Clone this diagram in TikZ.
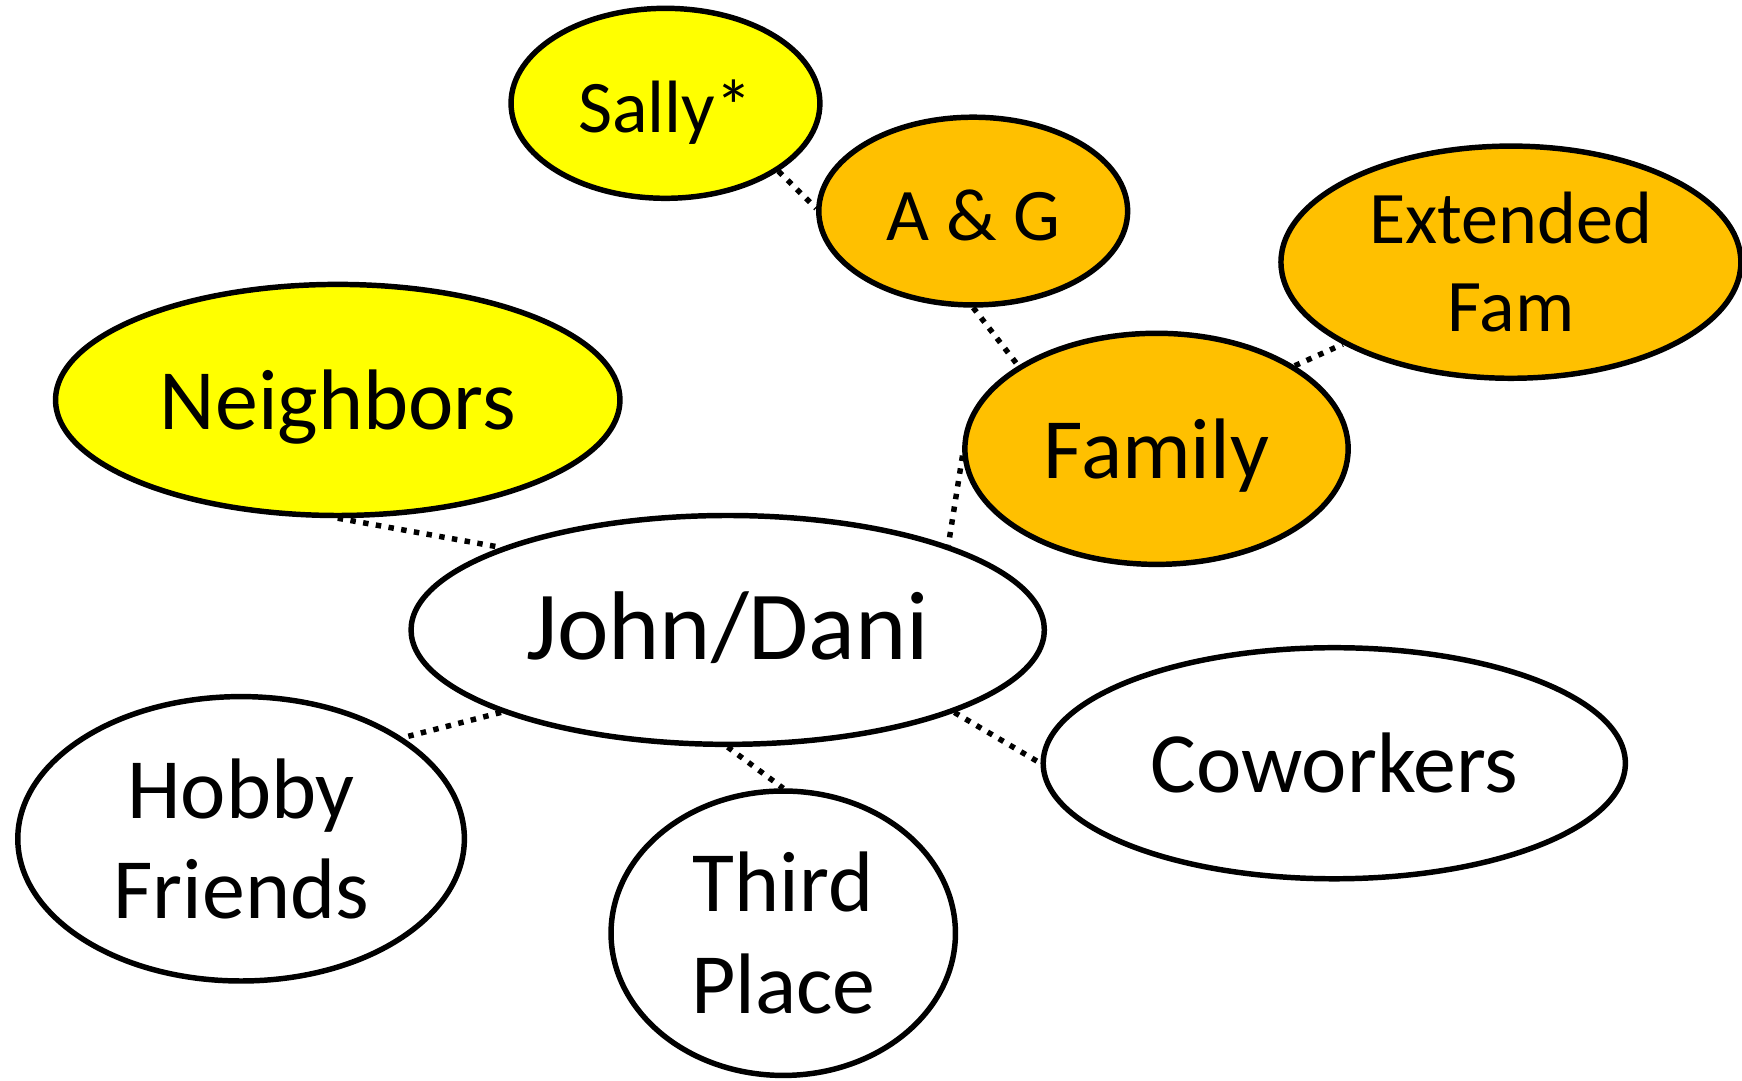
\documentclass[tikz,border=0pt]{standalone}
\usepackage{fontspec}
\setmainfont{Carlito}
\usetikzlibrary{shapes.geometric}

\definecolor{bubbleyellow}{HTML}{FFFF00}
\definecolor{bubbleorange}{HTML}{FFC000}

\tikzset{
  bubble/.style={shape=ellipse,draw=black,line width=1.4pt,inner sep=0pt,align=center},
  oneline/.style={text height=19pt,text depth=4pt},
  tie/.style={line width=1.4pt,dash pattern=on 1.4pt off 1.9pt}
}

\begin{document}
\begin{tikzpicture}

  \useasboundingbox (0,0) rectangle (15.68,-9.73);

  % draw the circles of people
  \node[bubble,oneline,fill=white,minimum width=5.70cm,minimum height=2.06cm,font=\fontsize{25}{29}\selectfont] (john) at (6.55,-5.67) {John/Dani};
  \node[bubble,oneline,fill=bubbleyellow,minimum width=5.08cm,minimum height=2.08cm,font=\fontsize{22}{26}\selectfont] (neighbors) at (3.04,-3.60) {Neighbors};
  \node[bubble,oneline,fill=bubbleorange,minimum width=3.45cm,minimum height=2.08cm,font=\fontsize{22}{26}\selectfont] (family) at (10.41,-4.04) {Family};
  \node[bubble,oneline,fill=bubbleorange,minimum width=2.78cm,minimum height=1.69cm,font=\fontsize{19}{22}\selectfont] (ag) at (8.76,-1.90) {A \& G};
  \node[bubble,oneline,fill=bubbleyellow,minimum width=2.78cm,minimum height=1.71cm,font=\fontsize{19}{22}\selectfont] (sally) at (5.99,-0.93) {Sally*};
  \node[bubble,fill=bubbleorange,minimum width=4.14cm,minimum height=2.09cm,font=\fontsize{19}{22.5}\selectfont] (extended) at (13.60,-2.36) {Extended\\Fam};
  \node[bubble,fill=white,minimum width=4.02cm,minimum height=2.56cm,font=\fontsize{22}{25.5}\selectfont] (hobby) at (2.17,-7.55) {Hobby\\Friends};
  \node[bubble,fill=white,minimum width=3.10cm,minimum height=2.56cm,font=\fontsize{22}{26}\selectfont] (third) at (7.05,-8.40) {Third\\Place};
  \node[bubble,oneline,fill=white,minimum width=5.24cm,minimum height=2.08cm,font=\fontsize{22}{26}\selectfont] (coworkers) at (12.01,-6.87) {Coworkers};

  % dotted ties between them
  \draw[tie] (sally.-31) -- (ag.179);
  \draw[tie] (ag.south) -- (family.149);
  \draw[tie] (family.31) -- (extended.206);
  \draw[tie] (family.182) -- (john.21);
  \draw[tie] (neighbors.south) -- (john.160);
  \draw[tie] (john.200) -- (hobby.32);
  \draw[tie] (john.south) -- (third.north);
  \draw[tie] (john.-20) -- (coworkers.west);

\end{tikzpicture}
\end{document}
